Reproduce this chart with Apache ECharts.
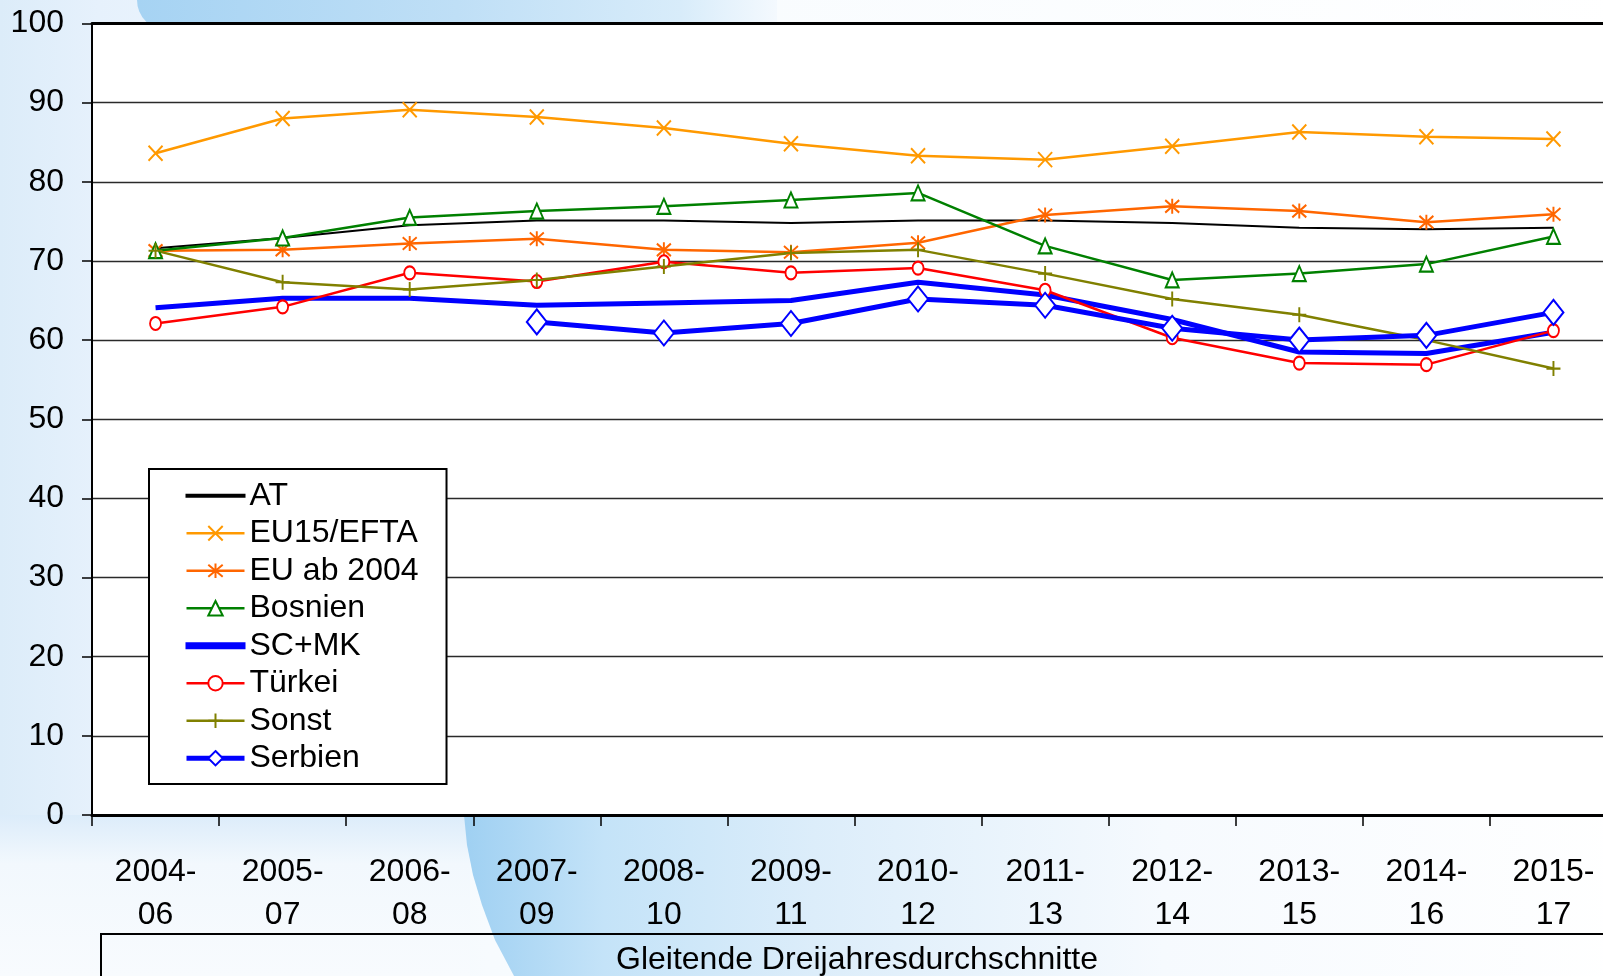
<!DOCTYPE html>
<html>
<head>
<meta charset="utf-8">
<title>Gleitende Dreijahresdurchschnitte</title>
<script src="https://cdn.jsdelivr.net/npm/echarts@6/dist/echarts.min.js"></script>
<style>
  html, body { margin: 0; padding: 0; background: #fff; overflow: hidden; }
  /* Diagramm ist rechts angeschnitten, daher breiter als das Fenster */
  #chart { width: 1630px; height: 976px; }
</style>
</head>
<body>
<div id="chart"></div>
<script>
const categories = ['2004-\n06', '2005-\n07', '2006-\n08', '2007-\n09', '2008-\n10', '2009-\n11',
  '2010-\n12', '2011-\n13', '2012-\n14', '2013-\n15', '2014-\n16', '2015-\n17']

const at       = [71.6, 72.9, 74.5, 75.1, 75.1, 74.8, 75.1, 75.1, 74.8, 74.2, 74.0, 74.2]
const eu15     = [83.6, 88.0, 89.1, 88.2, 86.8, 84.8, 83.3, 82.8, 84.5, 86.3, 85.7, 85.4]
const euAb2004 = [71.3, 71.4, 72.2, 72.8, 71.4, 71.1, 72.3, 75.8, 76.9, 76.3, 74.9, 75.9]
const bosnien  = [71.3, 72.9, 75.5, 76.3, 76.9, 77.7, 78.6, 71.9, 67.6, 68.4, 69.6, 73.1]
const scmk     = [64.1, 65.3, 65.3, 64.4, 64.7, 65.0, 67.3, 65.7, 62.6, 58.5, 58.3, 61.0]
const tuerkei  = [62.1, 64.2, 68.5, 67.4, 69.9, 68.5, 69.1, 66.3, 60.3, 57.1, 56.9, 61.2]
const sonst    = [71.3, 67.3, 66.4, 67.6, 69.3, 71.0, 71.4, 68.4, 65.2, 63.2, 60.0, 56.4]
const serbien  = [null, null, null, 62.3, 60.9, 62.1, 65.2, 64.4, 61.5, 60.0, 60.6, 63.5]

const yTicks = [0, 10, 20, 30, 40, 50, 60, 70, 80, 90, 100]
const seriesNames = ['AT', 'EU15/EFTA', 'EU ab 2004', 'Bosnien', 'SC+MK', 'Türkei', 'Sonst', 'Serbien']

const FONT = '"Liberation Sans", Arial, sans-serif'
const FS = 32

const SYM_X = 'path://M0,0L10,12M10,0L0,12'
const SYM_STAR = 'path://M0,1L10,11M10,1L0,11M5,0L5,12'
const SYM_PLUS = 'path://M5,0L5,12M0,6L10,6'

const chart = echarts.init(document.getElementById('chart'))

const mkLine = (name, data, color, width, symbol, size) => ({
  name,
  type: 'line',
  data,
  symbol: symbol || 'none',
  symbolSize: size,
  showSymbol: !!symbol,
  connectNulls: false,
  lineStyle: { color, width },
  itemStyle: { color, borderColor: color, borderWidth: 2 },
  emphasis: { disabled: true },
  animation: false
})

// Legenden-Eintraege ohne Marker: nur Linie
const legendData = seriesNames.map(n => {
  if (n === 'AT') return { name: n, icon: 'path://M0,0L58,0L58,2L0,2Z' }
  if (n === 'SC+MK') return { name: n, icon: 'path://M0,0L58,0L58,5L0,5Z' }
  return { name: n }
})

const option = {
  backgroundColor: '#ffffff',
  animation: false,
  textStyle: { fontFamily: FONT },
  graphic: [
    // Hintergrund
    {
      type: 'rect', z: -100, silent: true,
      shape: { x: 0, y: 0, width: 1630, height: 976 },
      style: {
        fill: new echarts.graphic.LinearGradient(0, 0, 1, 0, [
          { offset: 0, color: '#dcecf9' },
          { offset: 0.06, color: '#e6f1fc' },
          { offset: 0.3, color: '#f7fbfe' },
          { offset: 1, color: '#ffffff' }
        ])
      }
    },
    // oben
    {
      type: 'rect', z: -90, silent: true,
      shape: { x: 137, y: 0, width: 640, height: 30, r: [0, 0, 0, 30] },
      style: {
        fill: new echarts.graphic.LinearGradient(0, 0, 1, 0, [
          { offset: 0, color: '#a6d3f3' },
          { offset: 0.5, color: '#bfdff6' },
          { offset: 0.85, color: '#d8ecfa' },
          { offset: 1, color: '#f4f9fe' }
        ])
      }
    },
    // unten links
    {
      type: 'rect', z: -95, silent: true,
      shape: { x: 0, y: 815, width: 470, height: 161 },
      style: {
        fill: new echarts.graphic.LinearGradient(0, 0, 0, 1, [
          { offset: 0, color: '#dcecfa' },
          { offset: 0.3, color: '#f2f8fd' },
          { offset: 1, color: '#f8fbfe' }
        ])
      }
    },
    // unten Bogen
    {
      type: 'polygon', z: -90, silent: true,
      shape: { points: [[464, 815], [467, 845], [473, 875], [482, 905], [495, 940], [514, 976], [1630, 976], [1630, 815]] },
      style: {
        fill: new echarts.graphic.LinearGradient(0, 0, 1, 0, [
          { offset: 0, color: '#9fd0f2' },
          { offset: 0.12, color: '#c4e3f8' },
          { offset: 0.3, color: '#dcedfa' },
          { offset: 0.6, color: '#f6fafe' },
          { offset: 1, color: '#ffffff' }
        ])
      }
    },
    // Achsentitel-Box
    {
      type: 'rect', z: 100, silent: true,
      shape: { x: 101, y: 934, width: 1600, height: 60 },
      style: { fill: 'none', stroke: '#000', lineWidth: 2 }
    },
    {
      type: 'text', z: 100, silent: true,
      x: 857, y: 960,
      style: {
        text: 'Gleitende Dreijahresdurchschnitte',
        font: '32px ' + FONT,
        fill: '#000',
        align: 'center',
        verticalAlign: 'middle'
      }
    }
  ],
  legend: {
    orient: 'vertical',
    left: 149,
    top: 469,
    padding: [8, 28, 7, 35],
    itemWidth: 58,
    itemHeight: 18,
    itemGap: 0,
    backgroundColor: '#ffffff',
    borderColor: '#000',
    borderWidth: 2,
    borderRadius: 0,
    selectedMode: false,
    lineStyle: { width: 'inherit' },
    textStyle: { fontSize: FS, lineHeight: 37.5, color: '#000', fontFamily: FONT },
    data: legendData
  },
  grid: {
    left: 92,
    top: 23.5,
    width: 1525,
    height: 791.5,
    show: true,
    backgroundColor: '#ffffff',
    borderWidth: 0,
    containLabel: false
  },
  xAxis: [{
    type: 'category',
    data: categories,
    boundaryGap: true,
    axisLine: { lineStyle: { color: '#000', width: 3 } },
    axisTick: { show: true, length: 11, lineStyle: { color: '#000', width: 1.5 } },
    axisLabel: {
      color: '#000',
      fontSize: FS,
      lineHeight: 43,
      margin: 36,
      interval: 0,
      fontFamily: FONT
    },
    splitLine: { show: false }
  }, {
    type: 'category',
    position: 'top',
    data: categories,
    axisLine: { lineStyle: { color: '#000', width: 3 } },
    axisTick: { show: false },
    axisLabel: { show: false },
    splitLine: { show: false }
  }],
  yAxis: {
    type: 'value',
    min: 0,
    max: 100,
    interval: 10,
    axisLine: { show: true, lineStyle: { color: '#000', width: 2 } },
    axisTick: { show: true, length: 10, lineStyle: { color: '#000', width: 1.5 } },
    axisLabel: {
      color: '#000',
      fontSize: FS,
      margin: 28,
      fontFamily: FONT,
      formatter: v => yTicks.includes(v) ? String(v) : ''
    },
    splitLine: { show: true, lineStyle: { color: '#2a2a2a', width: 1.3 } }
  },
  series: [
    mkLine('AT', at, '#000000', 2, null, 0),
    mkLine('EU15/EFTA', eu15, '#ff9900', 2.5, SYM_X, [14, 15]),
    mkLine('EU ab 2004', euAb2004, '#ff6600', 2.5, SYM_STAR, [14, 15]),
    mkLine('Bosnien', bosnien, '#008000', 2.5, 'emptyTriangle', [13, 15]),
    mkLine('SC+MK', scmk, '#0000ff', 5, null, 0),
    mkLine('Türkei', tuerkei, '#ff0000', 2.5, 'emptyCircle', [11, 13]),
    mkLine('Sonst', sonst, '#808000', 2.5, SYM_PLUS, [14, 15]),
    mkLine('Serbien', serbien, '#0000ff', 5, 'emptyDiamond', [20, 25])
  ]
}

chart.setOption(option)
window.addEventListener('resize', () => chart.resize())
</script>
</body>
</html>
